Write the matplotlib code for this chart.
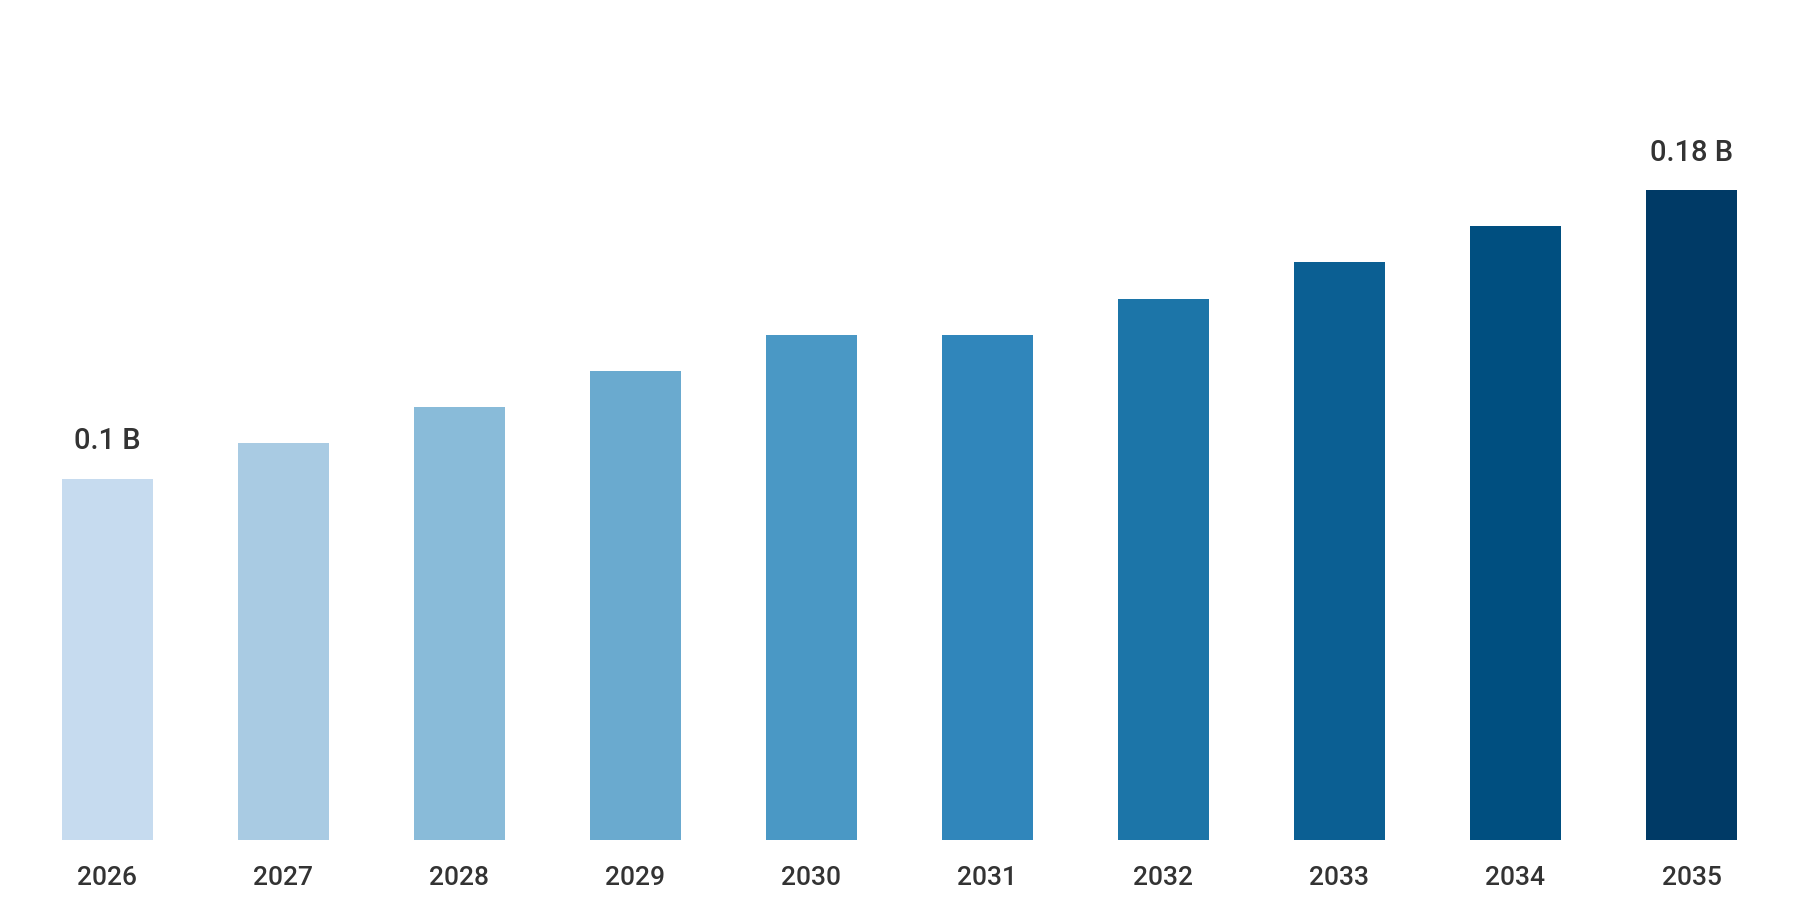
import matplotlib
matplotlib.use("Agg")
import matplotlib.pyplot as plt

years = ["2026", "2027", "2028", "2029", "2030", "2031", "2032", "2033", "2034", "2035"]
values = [0.10, 0.11, 0.12, 0.13, 0.14, 0.14, 0.15, 0.16, 0.17, 0.18]
colors = ["#c6dbef", "#a9cbe3", "#89bbd9", "#6aaacf", "#4a98c5",
          "#3086bb", "#1c75a8", "#0b5f93", "#004f80", "#003a66"]
labelled = {0: "0.1 B", 9: "0.18 B"}

plt.rcParams['font.family'] = ['Roboto', 'DejaVu Sans']

fig = plt.figure(figsize=(18, 9), dpi=100)
ax = fig.add_axes([0, 60/900, 1, 840/900])

x = range(len(years))
ax.bar(x, values, width=0.52, color=colors)

for i, txt in labelled.items():
    ax.annotate(txt, (i, values[i]), xytext=(0, 17), textcoords="offset points",
                ha="center", va="bottom", fontsize=21, fontweight="medium",
                color="#333333")

ax.set_xlim(-107.5/176, (1800-107.5)/176)
ax.set_ylim(0, 840/3610)
ax.set_xticks(list(x))
ax.set_xticklabels(years, fontsize=19, fontweight="medium", color="#333333")
ax.tick_params(axis="x", length=0, pad=19)
ax.set_yticks([])
for s in ax.spines.values():
    s.set_visible(False)

fig.savefig("out.png", dpi=100, facecolor="white")
